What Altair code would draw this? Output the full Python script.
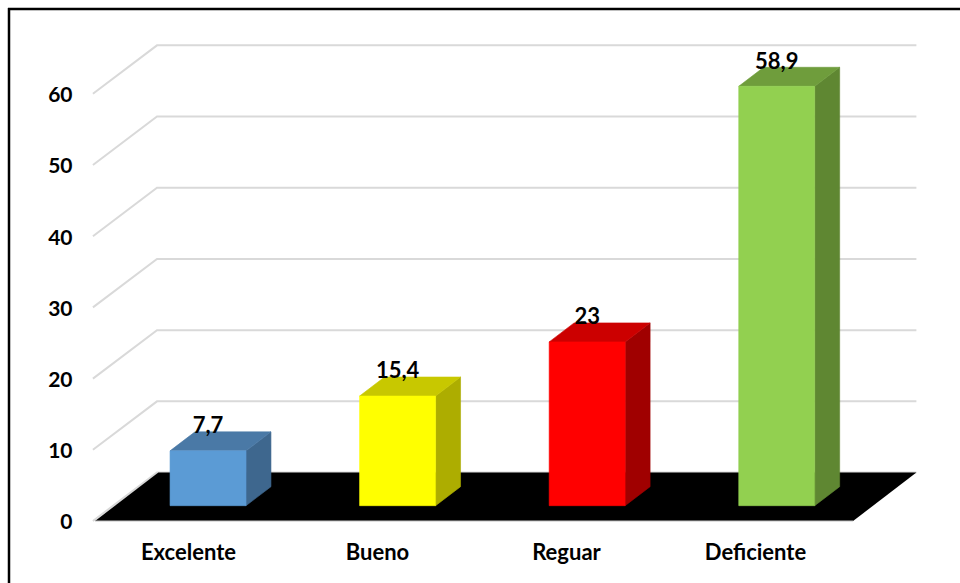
import json
import altair as alt
import pandas as pd

categories = ["Excelente", "Bueno", "Reguar", "Deficiente"]
values = [7.7, 15.4, 23, 58.9]
y_ticks = [0, 10, 20, 30, 40, 50, 60]
front_colors = ["#5B9BD5", "#FFFF00", "#FF0000", "#92D050"]
top_colors = ["#4A79A6", "#C8C800", "#CC0000", "#6F9D3C"]
side_colors = ["#3E678E", "#ADAD00", "#A00000", "#5F8732"]

FONT = "Lato"
X_LABEL_SIZE = 22
Y_LABEL_SIZE = 21
VALUE_SIZE = 22

# Oblique projection, in axis units: x in category steps, y in value units.
FLOOR_DX, FLOOR_DY = 0.335, 6.8
FLOOR_LEFT, FLOOR_RIGHT = -0.492, 3.519
GRID_LEFT = -0.503
BAR_SHIFT, BAR_STEP = 0.106, 1.003
BAR_W = 0.402
BAR_BASE = 2.15
BAR_DX, BAR_DY = 0.132, 2.67
LABEL_LIFT = 3.45

x_scale = alt.Scale(domain=[-0.9947, 4.0847], range=[0, 960], nice=False, zero=False)
y_scale = alt.Scale(domain=[-8.708, 73.17], range=[583, 0], nice=False, zero=False)

# Axes carry only their labels and sit inside the framed area
x_axis = alt.Axis(
    values=[0, 1, 2, 3], labelExpr=f"{json.dumps(categories)}[datum.value]", title=None,
    grid=False, domain=False, ticks=False, offset=-31, labelPadding=0,
    labelBaseline="middle", labelFont=FONT, labelFontWeight="bold", labelFontSize=X_LABEL_SIZE,
    labelColor="#000000", labelOverlap=False, labelBound=False, labelFlush=False,
)
y_axis = alt.Axis(
    values=y_ticks, title=None, grid=False, domain=False, ticks=False, offset=-72, labelPadding=0,
    labelOffset=2, labelFont=FONT, labelFontWeight="bold", labelFontSize=Y_LABEL_SIZE,
    labelColor="#000000", labelOverlap=False, labelBound=False, labelFlush=False,
)

X = lambda: alt.X("x:Q", scale=x_scale, axis=x_axis)
Y = lambda: alt.Y("y:Q", scale=y_scale, axis=y_axis)

# Back wall and its oblique returns on the left
grid_rows = []
for v in y_ticks:
    grid_rows += [
        {"tick": v, "step": 0, "x": GRID_LEFT, "y": v},
        {"tick": v, "step": 1, "x": GRID_LEFT + FLOOR_DX + 0.004, "y": v + FLOOR_DY},
        {"tick": v, "step": 2, "x": FLOOR_RIGHT + FLOOR_DX, "y": v + FLOOR_DY},
    ]
grid = alt.Chart(pd.DataFrame(grid_rows)).mark_line(color="#D9D9D9", strokeWidth=2).encode(
    x=X(), y=Y(), detail="tick:N", order="step:Q"
)

# Black floor
floor_df = pd.DataFrame({
    "y": [0, FLOOR_DY],
    "x": [FLOOR_LEFT, FLOOR_LEFT + FLOOR_DX],
    "x2": [FLOOR_RIGHT, FLOOR_RIGHT + FLOOR_DX],
})
floor = alt.Chart(floor_df).mark_area(orient="horizontal", color="#000000").encode(
    y=Y(), x=X(), x2="x2:Q"
)
floor_edge = alt.Chart(pd.DataFrame({"x": [FLOOR_LEFT, FLOOR_RIGHT], "y": [0, 0]})).mark_line(
    color="#BFBFBF", strokeWidth=1
).encode(x=X(), y=Y())

# Bar faces
front_rows, top_rows, side_rows, label_rows = [], [], [], []
for i, (cat, v) in enumerate(zip(categories, values)):
    left = i * BAR_STEP + BAR_SHIFT - BAR_W / 2
    right = left + BAR_W
    top = BAR_BASE + v
    front_rows.append({"cat": cat, "x": left, "x2": right, "y": BAR_BASE, "y2": top, "c": front_colors[i]})
    top_rows += [
        {"cat": cat, "x": left, "x2": right, "y": top, "c": top_colors[i]},
        {"cat": cat, "x": left + BAR_DX, "x2": right + BAR_DX, "y": top + BAR_DY, "c": top_colors[i]},
    ]
    side_rows += [
        {"cat": cat, "x": right, "y": BAR_BASE, "y2": top, "c": side_colors[i]},
        {"cat": cat, "x": right + BAR_DX, "y": BAR_BASE + BAR_DY, "y2": top + BAR_DY, "c": side_colors[i]},
    ]
    label_rows.append({
        "x": i * BAR_STEP + BAR_SHIFT,
        "y": top + LABEL_LIFT,
        "label": str(v).replace(".", ","),
    })

# A hairline stroke in the face colour hides the floor at antialiased edges
fill = alt.Color("c:N", scale=None, legend=None)
edge = alt.Stroke("c:N", scale=None, legend=None)

fronts = alt.Chart(pd.DataFrame(front_rows)).mark_rect(strokeWidth=0.6).encode(
    x=X(), x2="x2:Q", y=Y(), y2="y2:Q", color=fill, stroke=edge
)
tops = alt.Chart(pd.DataFrame(top_rows)).mark_area(orient="horizontal", strokeWidth=0.6).encode(
    y=Y(), x=X(), x2="x2:Q", color=fill, stroke=edge, detail="cat:N"
)
sides = alt.Chart(pd.DataFrame(side_rows)).mark_area(strokeWidth=0.6).encode(
    x=X(), y=Y(), y2="y2:Q", color=fill, stroke=edge, detail="cat:N"
)
labels = alt.Chart(pd.DataFrame(label_rows)).mark_text(
    font=FONT, fontWeight="bold", fontSize=VALUE_SIZE, color="#000000", baseline="middle"
).encode(x=X(), y=Y(), text="label:N")

# Outer frame: left and top edges only
frame_left = alt.Chart(pd.DataFrame({"k": [0]})).mark_rule(color="#000000", strokeWidth=2.5).encode(
    x=alt.value(9), y=alt.value(8), y2=alt.value(583)
)
frame_top = alt.Chart(pd.DataFrame({"k": [0]})).mark_rule(color="#000000", strokeWidth=2.5).encode(
    x=alt.value(8), x2=alt.value(960), y=alt.value(9)
)

chart = alt.layer(
    grid, floor, floor_edge, sides, tops, fronts, labels, frame_left, frame_top
).properties(
    width=960, height=583, padding=0, background="#FFFFFF",
    autosize=alt.AutoSizeParams(type="none"),
).configure_view(stroke=None)

chart.save("out.html", embed_options={"renderer": "svg", "actions": False})
